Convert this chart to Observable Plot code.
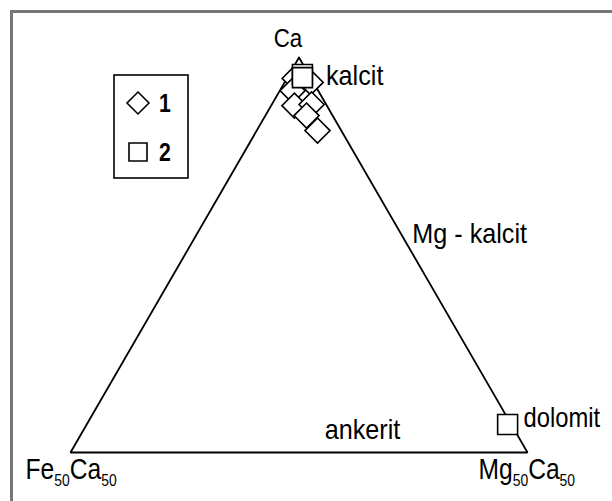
<!DOCTYPE html>
<html><head><meta charset="utf-8">
<script src="https://cdn.jsdelivr.net/npm/d3@7"></script>
<script src="https://cdn.jsdelivr.net/npm/@observablehq/plot@0.6"></script>
<style>
body{margin:0;background:#fff;}
#wrap{position:relative;width:612px;height:501px;overflow:hidden;font-family:"Liberation Sans",Arial,sans-serif;}
#frame{position:absolute;left:10px;top:10px;right:-10px;bottom:-10px;border-left:3px solid #777;border-top:3px solid #777;pointer-events:none;}
#legend{position:absolute;left:0;top:0;pointer-events:none;}
</style></head><body><div id="wrap"></div>
<script>
// Ternary end-members (apex, bottom-left, bottom-right)
const vertexLabels = ["Ca", "Fe_50Ca_50", "Mg_50Ca_50"];
const vertexCa = [100, 0, 0];
const vertexMg = [0, 0, 100];
const vertexFe = [0, 100, 0];

// Series 1 (diamonds), composition in % of the triangle end-members
const series1Ca = [94.7, 93.7, 91.6, 87.8, 88.1, 85.3, 81.5];
const series1Mg = [1.7, 5.7, 2.8, 5.1, 8.7, 9.0, 13.3];
const series1Fe = [3.6, 0.6, 5.6, 7.1, 3.2, 5.7, 5.2];

// Series 2 (squares): kalcit (x2) and dolomit
const series2Ca = [95.7, 94.9, 7.1];
const series2Mg = [2.9, 3.3, 92.1];
const series2Fe = [1.4, 1.8, 0.8];

const legendLabels = ["1", "2"];
const fieldLabels = ["kalcit", "Mg - kalcit", "ankerit", "dolomit"];

const tern = (ca, mg) => ({x: (mg + ca / 2) / 100, y: ca / 100});

const vertices = vertexLabels.map((label, i) => ({label, ...tern(vertexCa[i], vertexMg[i])}));
const s1 = series1Ca.map((ca, i) => tern(ca, series1Mg[i]));
const s2 = series2Ca.map((ca, i) => tern(ca, series2Mg[i]));
const outline = [...vertices, vertices[0]];

const apex = vertices[0], left = vertices[1], right = vertices[2];
const rightMid = tern(50, 50), baseMid = tern(0, 50);
const dolo = s2[2];

// horizontal condensation per font size (the original lettering is narrow)
const squeeze = {26: 0.86, 27: 0.88, 28: 0.9, 30: 0.82};

const T = (data, o) => Plot.text(data, {x: "x", y: "y", fill: "black", lineAnchor: "middle", ...o});
const plot = Plot.plot({
  width: 612, height: 501,
  marginLeft: 70, marginRight: 85, marginTop: 57, marginBottom: 49,
  x: {domain: [0, 1], axis: null},
  y: {domain: [0, 1], axis: null},
  style: {fontFamily: "Liberation Sans, Arial, sans-serif", background: "white", overflow: "visible"},
  marks: [
    Plot.line(outline, {x: "x", y: "y", stroke: "black", strokeWidth: 1.8, strokeLinejoin: "miter"}),
    Plot.dot(s1, {x: "x", y: "y", symbol: "diamond2", r: 11.3, stroke: "black", fill: "white", strokeWidth: 1.6}),
    Plot.dot(s2, {x: "x", y: "y", symbol: "square2", r: 12.7, stroke: "black", fill: "white", strokeWidth: 1.6}),
    T([apex], {text: "label", fontSize: 26, textAnchor: "middle", dx: -11, dy: -18.6}),
    T([left], {text: "label", fontSize: 30, textAnchor: "start", dx: -45, dy: 24}),
    T([right], {text: "label", fontSize: 30, textAnchor: "start", dx: -49, dy: 24}),
    T([{...apex, t: fieldLabels[0]}], {text: "t", fontSize: 28, textAnchor: "start", dx: 27, dy: 19}),
    T([{...rightMid, t: fieldLabels[1]}], {text: "t", fontSize: 28, textAnchor: "start", dx: -1, dy: -20.8}),
    T([{...baseMid, t: fieldLabels[2]}], {text: "t", fontSize: 28, textAnchor: "middle", dx: 63.5, dy: -22}),
    T([{...dolo, t: fieldLabels[3]}], {text: "t", fontSize: 27, textAnchor: "start", dx: 16, dy: -5.9})
  ]
});

// subscripts: "Fe_50Ca_50" -> Fe<sub>50</sub>Ca<sub>50</sub>
d3.select(plot).selectAll("text").each(function() {
  const s = this.textContent;
  if (!s.includes("_")) return;
  const el = d3.select(this);
  el.text(null);
  const re = /([^_]+?)_(\d+)/g;
  let m;
  while ((m = re.exec(s))) {
    el.append("tspan").attr("dy", this.childNodes.length ? -7 : null).text(m[1]);
    el.append("tspan").attr("font-size", 17).attr("dy", 7).text(m[2]);
  }
});

// condense lettering horizontally around each text's anchor
d3.select(plot).selectAll("text").each(function() {
  let g = this.parentNode, fs = null;
  while (g && g !== plot && !fs) { fs = g.getAttribute && g.getAttribute("font-size"); g = g.parentNode; }
  fs = fs || this.getAttribute("font-size");
  const k = squeeze[Math.round(parseFloat(fs))] || 0.88;
  const t = this.getAttribute("transform") || "";
  const x = +this.getAttribute("x") || 0, y = +this.getAttribute("y") || 0;
  this.setAttribute("transform", `${t} translate(${x},${y}) scale(${k},1) translate(${-x},${-y})`);
});

const wrap = document.getElementById("wrap");
wrap.appendChild(plot);

// legend box
const lg = d3.select(wrap).append("svg").attr("id", "legend").attr("width", 612).attr("height", 501);
const g = lg.append("g").attr("transform", "translate(114,75)");
g.append("rect").attr("width", 74).attr("height", 103).attr("fill", "white").attr("stroke", "black").attr("stroke-width", 1.6);
const symbols = [d3.symbolDiamond2, d3.symbolSquare2];
const sizes = [308, 412];
legendLabels.forEach((lab, i) => {
  const cy = 28 + i * 49;
  g.append("path").attr("d", d3.symbol(symbols[i], sizes[i])()).attr("transform", `translate(24,${cy})`)
    .attr("fill", "white").attr("stroke", "black").attr("stroke-width", 1.6);
  g.append("text").attr("x", 45).attr("y", cy).attr("dy", "0.36em").attr("font-size", 25).attr("font-weight", "bold")
    .attr("transform", `translate(45,${cy}) scale(0.85,1) translate(-45,${-cy})`)
    .attr("font-family", "Liberation Sans, Arial, sans-serif").text(lab);
});

const fr = document.createElement("div");
fr.id = "frame";
wrap.appendChild(fr);
</script></body></html>
